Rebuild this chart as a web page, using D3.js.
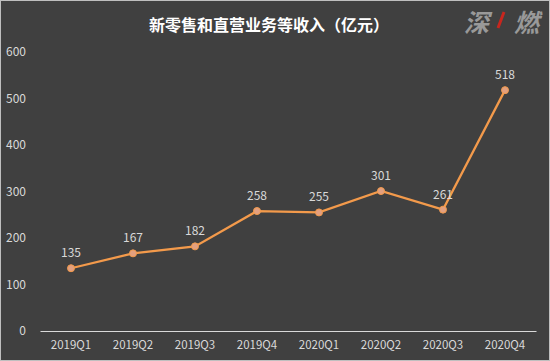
<!DOCTYPE html>
<html>
<head>
<meta charset="utf-8">
<script src="https://cdnjs.cloudflare.com/ajax/libs/d3/7.8.5/d3.min.js"></script>
<style>
  html, body { margin: 0; padding: 0; background: #bfbfbf; }
  svg { display: block; }
  text { font-family: "Noto Sans CJK SC", "Open Sans", sans-serif; }
</style>
</head>
<body>
<div id="container"></div>
<script>
"use strict";

const QUARTERS = ["2019Q1", "2019Q2", "2019Q3", "2019Q4", "2020Q1", "2020Q2", "2020Q3", "2020Q4"];
const REVENUE = [135, 167, 182, 258, 255, 301, 261, 518];
const Y_TICKS = [0, 100, 200, 300, 400, 500, 600];
const TITLE = "新零售和直营业务等收入（亿元）";

const WIDTH = 550;
const HEIGHT = 361;

const SVG = d3.select("div#container").append("svg")
    .attr("width", WIDTH)
    .attr("height", HEIGHT);

SVG.append("rect")
    .attr("x", 1).attr("y", 1)
    .attr("width", WIDTH - 2).attr("height", HEIGHT - 2)
    .attr("fill", "#404040");

const xScale = d3.scaleBand()
    .domain(QUARTERS)
    .range([40, 536]);

const yScale = d3.scaleLinear()
    .domain([0, 600])
    .range([331, 52]);

// title
SVG.append("text")
    .attr("x", 269)
    .attr("y", 31)
    .attr("text-anchor", "middle")
    .attr("fill", "#ffffff")
    .attr("font-size", 16)
    .attr("font-weight", "bold")
    .text(TITLE);

// watermark
const mark = SVG.append("g").attr("transform", "translate(464, 32)");
mark.append("text")
    .attr("x", 0).attr("y", 0)
    .attr("fill", "#999999")
    .attr("font-size", 25)
    .attr("font-weight", "bold")
    .attr("font-style", "italic")
    .attr("letter-spacing", 2)
    .text("深");
mark.append("text")
    .attr("x", 50).attr("y", 0)
    .attr("fill", "#999999")
    .attr("font-size", 25)
    .attr("font-weight", "bold")
    .attr("font-style", "italic")
    .text("燃");
mark.append("line")
    .attr("x1", 34).attr("y1", -4)
    .attr("x2", 40).attr("y2", -20)
    .attr("stroke", "#c8261e")
    .attr("stroke-width", 3);

// y axis labels
const yaxis = d3.axisLeft(yScale)
    .tickValues(Y_TICKS)
    .tickSize(0)
    .tickPadding(0);

SVG.append("g")
    .attr("transform", "translate(26, 0)")
    .call(yaxis)
    .call(g => g.select(".domain").remove())
    .call(g => g.selectAll("text")
        .attr("fill", "#d9d9d9")
        .attr("font-size", 12));

// x axis
const xaxis = d3.axisBottom(xScale)
    .tickSize(0)
    .tickPadding(10);

SVG.append("g")
    .attr("transform", `translate(0, ${yScale(0)})`)
    .call(xaxis)
    .call(g => g.select(".domain")
        .attr("stroke", "#d9d9d9")
        .attr("stroke-width", 1))
    .call(g => g.selectAll("text")
        .attr("fill", "#d9d9d9")
        .attr("font-size", 11.5));

const line = d3.line()
    .x((d, i) => xScale(QUARTERS[i]) + xScale.bandwidth() / 2)
    .y(d => yScale(d));

SVG.append("path")
    .attr("d", line(REVENUE))
    .attr("fill", "none")
    .attr("stroke", "#f39a4b")
    .attr("stroke-width", 2.25);

SVG.selectAll("circle.pt")
    .data(REVENUE)
    .join("circle")
    .attr("class", "pt")
    .attr("cx", (d, i) => xScale(QUARTERS[i]) + xScale.bandwidth() / 2)
    .attr("cy", d => yScale(d))
    .attr("r", 3.5)
    .attr("fill", "#e3a07f")
    .attr("stroke", "#f39a4b")
    .attr("stroke-width", 1);

SVG.selectAll("text.lbl")
    .data(REVENUE)
    .join("text")
    .attr("class", "lbl")
    .attr("x", (d, i) => xScale(QUARTERS[i]) + xScale.bandwidth() / 2)
    .attr("y", d => yScale(d) - 11)
    .attr("text-anchor", "middle")
    .attr("fill", "#d9d9d9")
    .attr("font-size", 12)
    .text(d => d);
</script>
</body>
</html>
